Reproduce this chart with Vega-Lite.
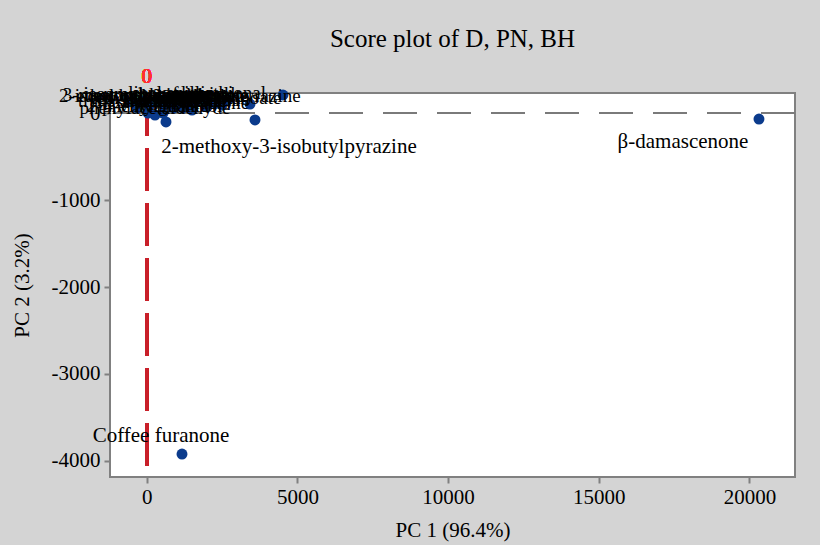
{
  "$schema": "https://vega.github.io/schema/vega-lite/v6.json",
  "width": 685,
  "height": 384,
  "autosize": {"type": "none"},
  "padding": {"left": 110, "top": 93, "right": 25, "bottom": 68},
  "background": "#d4d4d4",
  "title": {
    "text": "Score plot of D, PN, BH",
    "font": "Liberation Serif",
    "fontSize": 25,
    "fontWeight": "normal",
    "color": "#000000",
    "anchor": "middle",
    "offset": 14
  },
  "config": {
    "view": {"fill": "#ffffff", "stroke": "#808080", "strokeWidth": 2},
    "axis": {
      "grid": false,
      "domain": false,
      "tickColor": "#808080",
      "tickWidth": 2,
      "tickSize": 6,
      "labelFont": "Liberation Serif",
      "labelFontSize": 21,
      "labelColor": "#000000",
      "titleFont": "Liberation Serif",
      "titleFontSize": 21,
      "titleFontWeight": "normal",
      "titleColor": "#000000"
    }
  },
  "data": {
    "values": [
      {"compound": "β-damascenone", "pc1": 20315, "pc2": -69},
      {"compound": "Coffee furanone", "pc1": 1171, "pc2": -3920},
      {"compound": "2-methoxy-3-isobutylpyrazine", "pc1": 3593, "pc2": -80},
      {"compound": "2-phenylethanol", "pc1": 43, "pc2": 0},
      {"compound": "phenylacetaldehyde", "pc1": 275, "pc2": -23},
      {"compound": "4-vinylguaiacol", "pc1": 541, "pc2": 0},
      {"compound": "ethyl cinnamate", "pc1": 640, "pc2": -103},
      {"compound": "whisky lactone", "pc1": 1503, "pc2": 34},
      {"compound": "ethyl acetate", "pc1": 4522, "pc2": 207},
      {"compound": "acetaldehyde", "pc1": 3427, "pc2": 103},
      {"compound": "ethyl butanoate", "pc1": -400, "pc2": 110},
      {"compound": "isoamyl acetate", "pc1": -150, "pc2": 140},
      {"compound": "ethyl hexanoate", "pc1": 100, "pc2": 90},
      {"compound": "linalool", "pc1": 350, "pc2": 150},
      {"compound": "β-ionone", "pc1": 600, "pc2": 100},
      {"compound": "guaiacol", "pc1": 800, "pc2": 130},
      {"compound": "eugenol", "pc1": 1000, "pc2": 95},
      {"compound": "vanillin", "pc1": 1300, "pc2": 150},
      {"compound": "γ-nonalactone", "pc1": 1600, "pc2": 120},
      {"compound": "furaneol", "pc1": 1900, "pc2": 140},
      {"compound": "sotolon", "pc1": 2300, "pc2": 110},
      {"compound": "methional", "pc1": 2700, "pc2": 150},
      {"compound": "3-mercaptohexyl acetate", "pc1": 300, "pc2": 130},
      {"compound": "2-isopropyl-3-methoxypyrazine", "pc1": 1100, "pc2": 110},
      {"compound": "ethyl 2-methylbutanoate", "pc1": 1400, "pc2": 90},
      {"compound": "trans-2-nonenal", "pc1": -300, "pc2": 60},
      {"compound": "1-octen-3-one", "pc1": 900, "pc2": 60},
      {"compound": "hexanal", "pc1": 2000, "pc2": 70},
      {"compound": "rotundone", "pc1": -500, "pc2": 130},
      {"compound": "TDN", "pc1": 2500, "pc2": 90},
      {"compound": "citronellol", "pc1": 1200, "pc2": 60},
      {"compound": "geraniol", "pc1": 1700, "pc2": 140}
    ]
  },
  "layer": [
    {
      "mark": {"type": "rule", "color": "#7a7a7a", "strokeWidth": 2, "strokeDash": [34, 20]},
      "encoding": {"y": {"datum": 0}}
    },
    {
      "mark": {"type": "rule", "color": "#c8202a", "strokeWidth": 3, "strokeDash": [43, 12]},
      "encoding": {"x": {"datum": 0}}
    },
    {
      "mark": {"type": "text", "color": "#ff3030", "font": "Liberation Serif", "fontSize": 21, "baseline": "middle"},
      "encoding": {"x": {"datum": 0}, "y": {"datum": 414}, "text": {"value": "0"}}
    },
    {
      "mark": {"type": "point", "shape": "circle", "filled": true, "size": 120, "color": "#0b3b8c", "opacity": 1},
      "encoding": {
        "x": {
          "field": "pc1",
          "type": "quantitative",
          "scale": {"domain": [-1218, 21510], "nice": false, "zero": false},
          "axis": {"values": [0, 5000, 10000, 15000, 20000], "format": "d", "title": "PC 1 (96.4%)", "labelPadding": 3, "titlePadding": 12}
        },
        "y": {
          "field": "pc2",
          "type": "quantitative",
          "scale": {"domain": [-4184, 230], "nice": false, "zero": false},
          "axis": {"values": [0, -1000, -2000, -3000, -4000], "format": "d", "labelExpr": "replace(datum.label, '−', '-')", "title": "PC 2 (3.2%)", "labelPadding": 4, "titlePadding": 19}
        }
      }
    },
    {
      "transform": [{"filter": {"field": "compound", "oneOf": ["2-phenylethanol", "phenylacetaldehyde", "4-vinylguaiacol", "whisky lactone", "ethyl butanoate", "isoamyl acetate", "ethyl hexanoate", "linalool", "β-ionone", "guaiacol", "eugenol", "vanillin", "γ-nonalactone", "furaneol", "sotolon", "methional", "3-mercaptohexyl acetate", "2-isopropyl-3-methoxypyrazine", "ethyl 2-methylbutanoate", "trans-2-nonenal", "1-octen-3-one", "hexanal", "rotundone", "TDN", "citronellol", "geraniol"]}}],
      "mark": {"type": "text", "font": "Liberation Serif", "fontSize": 19, "color": "#000000", "baseline": "middle", "dy": -7},
      "encoding": {"x": {"field": "pc1", "type": "quantitative"}, "y": {"field": "pc2", "type": "quantitative"}, "text": {"field": "compound"}}
    },
    {
      "transform": [{"filter": {"field": "compound", "equal": "β-damascenone"}}],
      "mark": {"type": "text", "font": "Liberation Serif", "fontSize": 21, "color": "#000000", "baseline": "middle", "dx": -76, "dy": 23},
      "encoding": {"x": {"field": "pc1", "type": "quantitative"}, "y": {"field": "pc2", "type": "quantitative"}, "text": {"field": "compound"}}
    },
    {
      "transform": [{"filter": {"field": "compound", "equal": "Coffee furanone"}}],
      "mark": {"type": "text", "font": "Liberation Serif", "fontSize": 21, "color": "#000000", "baseline": "middle", "dx": -21, "dy": -18},
      "encoding": {"x": {"field": "pc1", "type": "quantitative"}, "y": {"field": "pc2", "type": "quantitative"}, "text": {"field": "compound"}}
    },
    {
      "transform": [{"filter": {"field": "compound", "equal": "2-methoxy-3-isobutylpyrazine"}}],
      "mark": {"type": "text", "font": "Liberation Serif", "fontSize": 21, "color": "#000000", "baseline": "middle", "dx": 34, "dy": 27},
      "encoding": {"x": {"field": "pc1", "type": "quantitative"}, "y": {"field": "pc2", "type": "quantitative"}, "text": {"field": "compound"}}
    }
  ]
}
